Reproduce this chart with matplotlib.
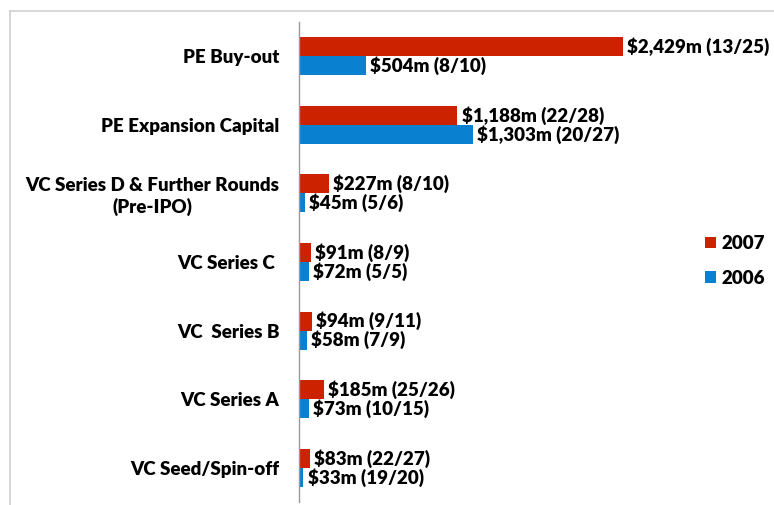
import numpy as np
import matplotlib.pyplot as plt
from matplotlib.lines import Line2D

categories = ["PE Buy-out", "PE Expansion Capital",
              "VC Series D & Further Rounds\n(Pre-IPO)", "VC Series C ",
              "VC  Series B", "VC Series A", "VC Seed/Spin-off"]
val_2007 = [2429, 1188, 227, 91, 94, 185, 83]
val_2006 = [504, 1303, 45, 72, 58, 73, 33]
deals_2007 = ["13/25", "22/28", "8/10", "8/9", "9/11", "25/26", "22/27"]
deals_2006 = ["8/10", "20/27", "5/6", "5/5", "7/9", "10/15", "19/20"]

red = "#cc2200"
blue = "#0a80d0"
fs = 13.5
plt.rcParams['font.family'] = ['Lato', 'DejaVu Sans']
plt.rcParams['font.weight'] = 'heavy'

fig = plt.figure(figsize=(7.74, 5.05), dpi=100)
# light frame around the chart area (left and top edges visible)
fig.add_artist(Line2D([10/774, 10/774], [0, 1 - 11/505], color="#d0d0d0", lw=1.2))
fig.add_artist(Line2D([10/774, 1], [1 - 11/505, 1 - 11/505], color="#d0d0d0", lw=1.2))

ax = fig.add_axes([299/774, 3/505, 401/774, 480/505])
y = np.arange(len(categories))
h = 0.277
ax.barh(y - h/2, val_2007, height=h, color=red, label="2007")
ax.barh(y + h/2, val_2006, height=h, color=blue, label="2006")

for yi, v, d in zip(y, val_2007, deals_2007):
    ax.annotate(f"${v:,}m ({d})", (v, yi - h/2), xytext=(3, 0), textcoords="offset points",
                va="center", ha="left", fontsize=fs, fontweight="heavy")
for yi, v, d in zip(y, val_2006, deals_2006):
    ax.annotate(f"${v:,}m ({d})", (v, yi + h/2), xytext=(3, 0), textcoords="offset points",
                va="center", ha="left", fontsize=fs, fontweight="heavy")

ax.set_xlim(0, 401/0.1334)
ax.set_ylim(len(categories) - 0.5, -0.5)
ax.set_yticks(y)
ax.set_yticklabels(categories, fontsize=fs, fontweight="heavy", multialignment="center")
ax.tick_params(axis="y", length=0, pad=14)
ax.set_xticks([])
for s in ["top", "right", "bottom"]:
    ax.spines[s].set_visible(False)
ax.spines["left"].set_color("#999999")
ax.spines["left"].set_linewidth(1)

leg = fig.legend(loc="center left", bbox_to_anchor=(688/774, 1 - 261/505), frameon=False,
                 fontsize=fs, handlelength=0.6, handleheight=0.6, handletextpad=0.3,
                 labelspacing=0.95)
for t in leg.get_texts():
    t.set_fontweight("heavy")

fig.savefig("out.png", dpi=100)
